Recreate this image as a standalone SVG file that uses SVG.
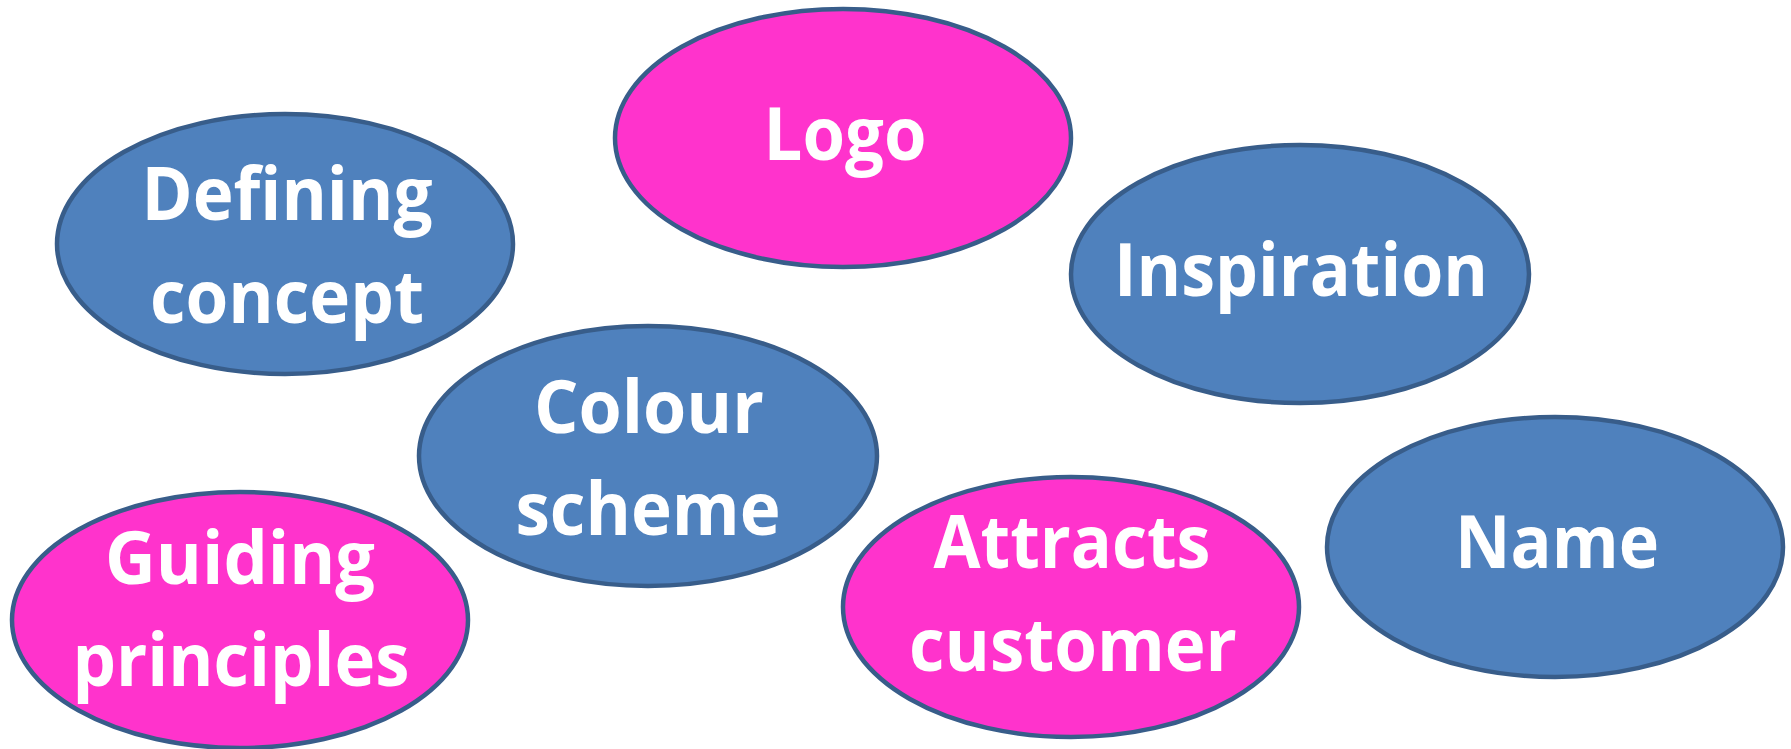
<svg xmlns="http://www.w3.org/2000/svg" width="1791" height="749" viewBox="0 0 1791 749">
<style>
.blue{fill:#4F81BD;stroke:#385D8A;stroke-width:4.5}
.pink{fill:#FF33CC;stroke:#385D8A;stroke-width:4.5}
text{font-family:"Open Sans",Lato,"Liberation Sans",sans-serif;font-weight:bold;font-size:74px;fill:#FFFFFF;text-anchor:middle;font-variant-ligatures:none}
</style>
<rect width="1791" height="749" fill="#FFFFFF"/>
<g id="connectors"></g>
<g id="logo"><ellipse class="pink" cx="843" cy="138" rx="228" ry="129"/><text x="845" y="160" textLength="163" lengthAdjust="spacingAndGlyphs">Logo</text></g>
<g id="defining-concept"><ellipse class="blue" cx="285" cy="244" rx="228" ry="130"/><text x="287" y="220" textLength="291" lengthAdjust="spacingAndGlyphs">Defining</text><text x="287" y="323" textLength="274" lengthAdjust="spacingAndGlyphs">concept</text></g>
<g id="inspiration"><ellipse class="blue" cx="1300" cy="274" rx="229" ry="129"/><text x="1301" y="296" textLength="374" lengthAdjust="spacingAndGlyphs">Inspiration</text></g>
<g id="colour-scheme"><ellipse class="blue" cx="648" cy="456" rx="229" ry="130"/><text x="649" y="433" textLength="230" lengthAdjust="spacingAndGlyphs">Colour</text><text x="648" y="535" textLength="265" lengthAdjust="spacingAndGlyphs">scheme</text></g>
<g id="guiding-principles"><ellipse class="pink" cx="240" cy="620" rx="228" ry="128"/><text x="240" y="584" textLength="270" lengthAdjust="spacingAndGlyphs">Guiding</text><text x="241" y="686" textLength="337" lengthAdjust="spacingAndGlyphs">principles</text></g>
<g id="attracts-customer"><ellipse class="pink" cx="1071" cy="607" rx="228" ry="130"/><text x="1072" y="568" textLength="277" lengthAdjust="spacingAndGlyphs">Attracts</text><text x="1073" y="671" textLength="328" lengthAdjust="spacingAndGlyphs">customer</text></g>
<g id="name"><ellipse class="blue" cx="1555" cy="547" rx="228" ry="130"/><text x="1557" y="568" textLength="204" lengthAdjust="spacingAndGlyphs">Name</text></g>
</svg>
